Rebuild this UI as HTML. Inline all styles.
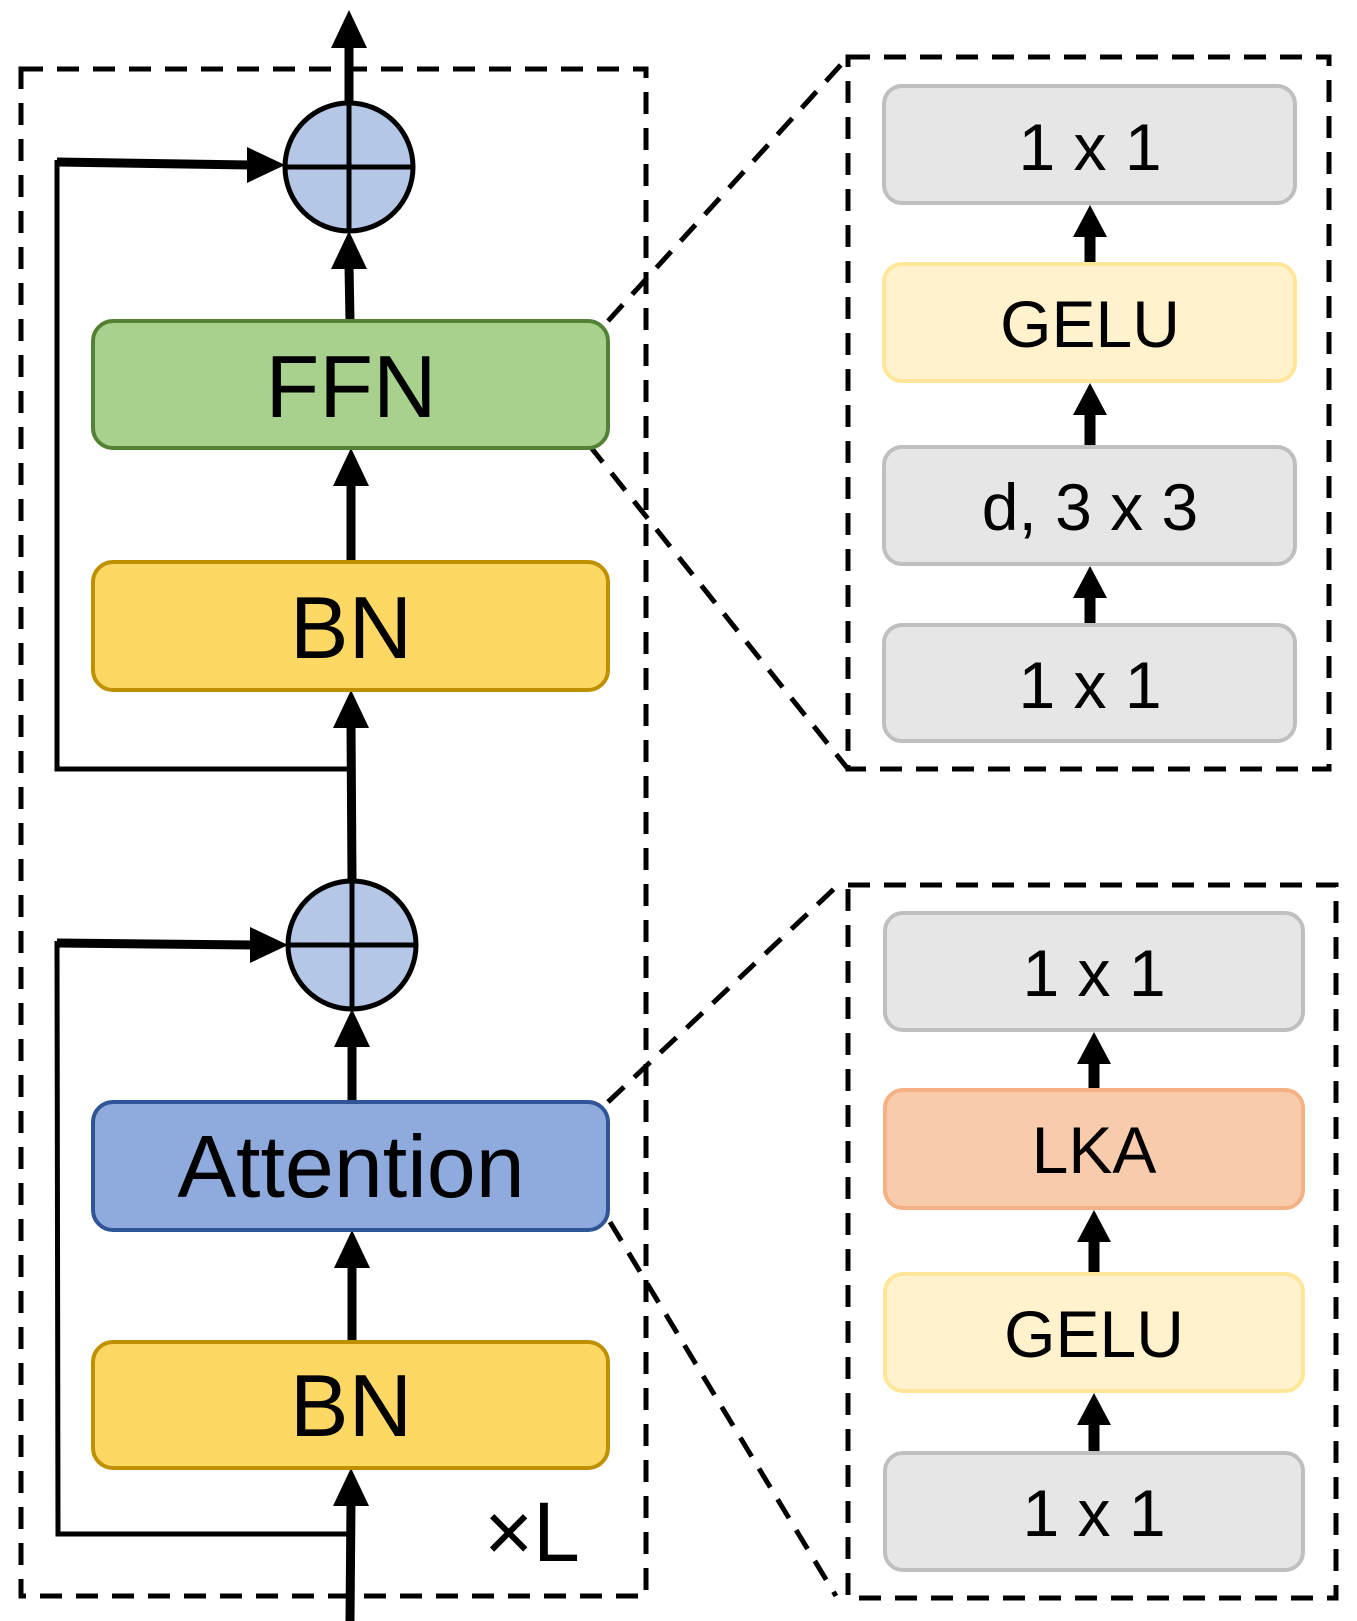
<!DOCTYPE html>
<html><head><meta charset="utf-8"><style>
html,body{margin:0;padding:0;background:#fff;}
svg{display:block;}
text{font-family:"Liberation Sans","DejaVu Sans",sans-serif;text-anchor:middle;fill:#000;}
</style></head><body>
<svg width="1357" height="1621" viewBox="0 0 1357 1621" xmlns="http://www.w3.org/2000/svg">
<g fill="none" stroke="#000" stroke-width="5" stroke-dasharray="22,14">
<rect x="21" y="69" width="625" height="1527"/>
<rect x="848" y="57" width="481" height="712"/>
<rect x="848" y="885" width="488" height="713"/>
<line x1="608" y1="321" x2="848" y2="57"/>
<line x1="589" y1="445" x2="848" y2="769"/>
<line x1="608" y1="1102" x2="836" y2="887"/>
<line x1="610" y1="1222" x2="836" y2="1596"/>
</g>
<g stroke="#000" stroke-width="5" fill="none">
<polyline points="349,769 57,769 57,160"/>
<polyline points="349,1534 58,1534 57,941"/>
</g>
<g stroke="#000" stroke-width="9" fill="none">
<line x1="349" y1="103" x2="349" y2="44"/>
<line x1="350" y1="321" x2="349" y2="265"/>
<line x1="351" y1="562" x2="351" y2="482"/>
<line x1="352" y1="881" x2="351" y2="724"/>
<line x1="352" y1="1102" x2="352" y2="1043"/>
<line x1="352" y1="1342" x2="352" y2="1264"/>
<line x1="350" y1="1621" x2="351" y2="1502"/>
<line x1="57" y1="162" x2="250" y2="165"/>
<line x1="57" y1="943" x2="253" y2="945"/>
</g>
<g fill="#000">
<polygon points="331,48 367,48 349,10"/>
<polygon points="331,269 367,269 349,231"/>
<polygon points="333,486 369,486 351,448"/>
<polygon points="333,728 369,728 351,690"/>
<polygon points="334,1047 370,1047 352,1009"/>
<polygon points="334,1268 370,1268 352,1230"/>
<polygon points="333,1506 369,1506 351,1468"/>
<polygon points="247,147 247,183 285,165"/>
<polygon points="250,927 250,963 288,945"/>
</g>
<g stroke="#000" stroke-width="5">
<circle cx="349" cy="167" r="64" fill="#b4c7e7"/>
<line x1="349" y1="103" x2="349" y2="231"/><line x1="285" y1="167" x2="413" y2="167"/>
<circle cx="352" cy="945" r="64" fill="#b4c7e7"/>
<line x1="352" y1="881" x2="352" y2="1009"/><line x1="288" y1="945" x2="416" y2="945"/>
</g>
<g stroke-width="4">
<rect x="93" y="321" width="515" height="127" rx="20" fill="#a9d18e" stroke="#548235"/>
<rect x="93" y="562" width="515" height="128" rx="20" fill="#fdd864" stroke="#bf9000"/>
<rect x="93" y="1102" width="515" height="128" rx="20" fill="#8faadc" stroke="#2f5597"/>
<rect x="93" y="1342" width="515" height="126" rx="20" fill="#fdd864" stroke="#bf9000"/>
</g>
<text x="351" y="417" font-size="88">FFN</text>
<text x="351" y="658" font-size="88">BN</text>
<text x="351" y="1197" font-size="88">Attention</text>
<text x="351" y="1436" font-size="88">BN</text>
<text x="532" y="1561" font-size="84">×L</text>
<g stroke-width="4">
<rect x="884" y="86" width="411" height="117" rx="18" fill="#e7e6e6" stroke="#bfbfbf"/>
<rect x="884" y="264" width="411" height="117" rx="18" fill="#fff2cc" stroke="#ffe699"/>
<rect x="884" y="447" width="411" height="117" rx="18" fill="#e7e6e6" stroke="#bfbfbf"/>
<rect x="884" y="625" width="411" height="116" rx="18" fill="#e7e6e6" stroke="#bfbfbf"/>
<rect x="885" y="913" width="418" height="117" rx="18" fill="#e7e6e6" stroke="#bfbfbf"/>
<rect x="885" y="1090" width="418" height="118" rx="18" fill="#f8cbad" stroke="#f4b183"/>
<rect x="885" y="1274" width="418" height="117" rx="18" fill="#fff2cc" stroke="#ffe699"/>
<rect x="885" y="1453" width="418" height="117" rx="18" fill="#e7e6e6" stroke="#bfbfbf"/>
</g>
<g stroke="#000" stroke-width="11">
<line x1="1090" y1="262" x2="1090" y2="230"/>
<line x1="1090" y1="445" x2="1090" y2="410"/>
<line x1="1090" y1="623" x2="1090" y2="592"/>
<line x1="1094" y1="1088" x2="1094" y2="1058"/>
<line x1="1094" y1="1272" x2="1094" y2="1236"/>
<line x1="1094" y1="1451" x2="1094" y2="1419"/>
</g>
<g fill="#000">
<polygon points="1073,237 1107,237 1090,205"/>
<polygon points="1073,415 1107,415 1090,383"/>
<polygon points="1073,598 1107,598 1090,566"/>
<polygon points="1077,1064 1111,1064 1094,1032"/>
<polygon points="1077,1242 1111,1242 1094,1210"/>
<polygon points="1077,1425 1111,1425 1094,1393"/>
</g>
<g font-size="66">
<text x="1090" y="170">1 x 1</text>
<text x="1090" y="347">GELU</text>
<text x="1090" y="530">d, 3 x 3</text>
<text x="1090" y="708">1 x 1</text>
<text x="1094" y="996">1 x 1</text>
<text x="1094" y="1173">LKA</text>
<text x="1094" y="1357">GELU</text>
<text x="1094" y="1536">1 x 1</text>
</g>
</svg>
</body></html>
